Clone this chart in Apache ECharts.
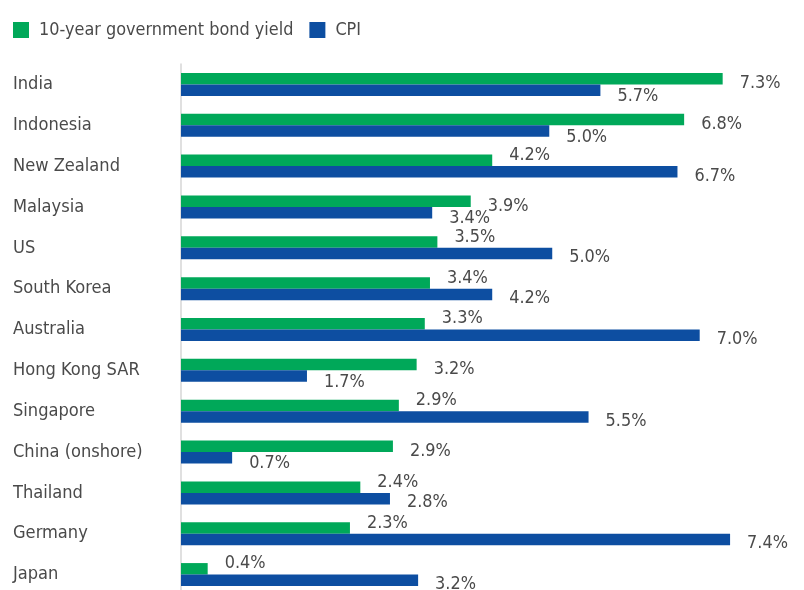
<!DOCTYPE html>
<html>
<head>
<meta charset="utf-8">
<script src="https://cdn.jsdelivr.net/npm/echarts@6/dist/echarts.min.js"></script>
<style>
html,body{margin:0;padding:0;background:#fff;overflow:hidden;}
#chart{width:804px;height:600px;}
</style>
</head>
<body>
<div id="chart"></div>
<script>
const categories = ['India','Indonesia','New Zealand','Malaysia','US','South Korea','Australia','Hong Kong SAR','Singapore','China (onshore)','Thailand','Germany','Japan'];
const bondYield = [7.31, 6.79, 4.20, 3.91, 3.46, 3.36, 3.29, 3.18, 2.94, 2.86, 2.42, 2.28, 0.36];
const cpi = [5.66, 4.97, 6.70, 3.39, 5.01, 4.20, 7.00, 1.70, 5.50, 0.69, 2.82, 7.41, 3.20];
const seriesNames = ['10-year government bond yield', 'CPI'];

// pick an installed narrow-ish font and size text to the reference widths
const ctx = document.createElement('canvas').getContext('2d');
function w(font, text) { ctx.font = font; return ctx.measureText(text).width; }
function available(name) {
  const s = 'mmmmmmmmmlli10-year New Zealand';
  return ['monospace', 'serif'].some(b => w('100px "' + name + '", ' + b, s) !== w('100px ' + b, s));
}
const candidates = ['Liberation Sans Narrow', 'DejaVu Sans Condensed', 'Roboto Condensed', 'Open Sans Condensed', 'Noto Sans Display', 'Roboto', 'Liberation Sans'];
const FAMILY = candidates.find(available) || 'sans-serif';
const FONT = '"' + FAMILY + '", sans-serif';
function sizeFor(text, target, maxSize) {
  const s = target / w('100px ' + FONT, text) * 100;
  return Math.min(maxSize, Math.round(s * 10) / 10);
}
const catSize = sizeFor('New Zealand', 107, 21);
const legendSize = sizeFor(seriesNames[0], 254, 22);
const valSize = sizeFor('7.3%', 41, 21);

const TEXT = '#4a4a4a';
const chart = echarts.init(document.getElementById('chart'));
function labelCfg() {
  return {
    show: true,
    position: 'right',
    distance: 17,
    color: TEXT,
    fontFamily: FONT,
    fontSize: valSize,
    formatter: p => p.value.toFixed(1) + '%'
  };
}
// green label sits above its bar when the CPI bar runs under it, otherwise drops toward the gap
const bondData = bondYield.map((v, i) => ({ value: v, label: { offset: [0, cpi[i] >= v ? -5 : 5] } }));
const cpiData = cpi.map((v, i) => ({ value: v, label: { offset: [0, v >= bondYield[i] ? 4 : 6] } }));

chart.setOption({
  animation: false,
  legend: {
    left: 8,
    top: 16,
    icon: 'rect',
    itemWidth: 16,
    itemHeight: 16,
    itemGap: 16,
    textStyle: { color: TEXT, fontFamily: FONT, fontSize: legendSize, lineHeight: 16, padding: [0, 0, 0, 5] },
    data: seriesNames
  },
  grid: { left: 181, top: 64, width: 592.8, height: 531 },
  xAxis: {
    type: 'value', min: 0, max: 8,
    show: false,
    splitLine: { show: false }
  },
  yAxis: {
    type: 'category',
    data: categories,
    inverse: true,
    axisLine: { show: true, lineStyle: { color: '#d6d6d6', width: 1.5 } },
    axisTick: { show: false },
    axisLabel: {
      align: 'left', margin: 168,
      color: TEXT, fontFamily: FONT, fontSize: catSize
    }
  },
  series: [
    {
      name: seriesNames[0], type: 'bar', data: bondData,
      barWidth: 11.5, barGap: '0%',
      itemStyle: { color: '#00a859' },
      label: labelCfg()
    },
    {
      name: seriesNames[1], type: 'bar', data: cpiData,
      barWidth: 11.5, barGap: '0%',
      itemStyle: { color: '#0d4ea1' },
      label: labelCfg()
    }
  ]
});
</script>
</body>
</html>
